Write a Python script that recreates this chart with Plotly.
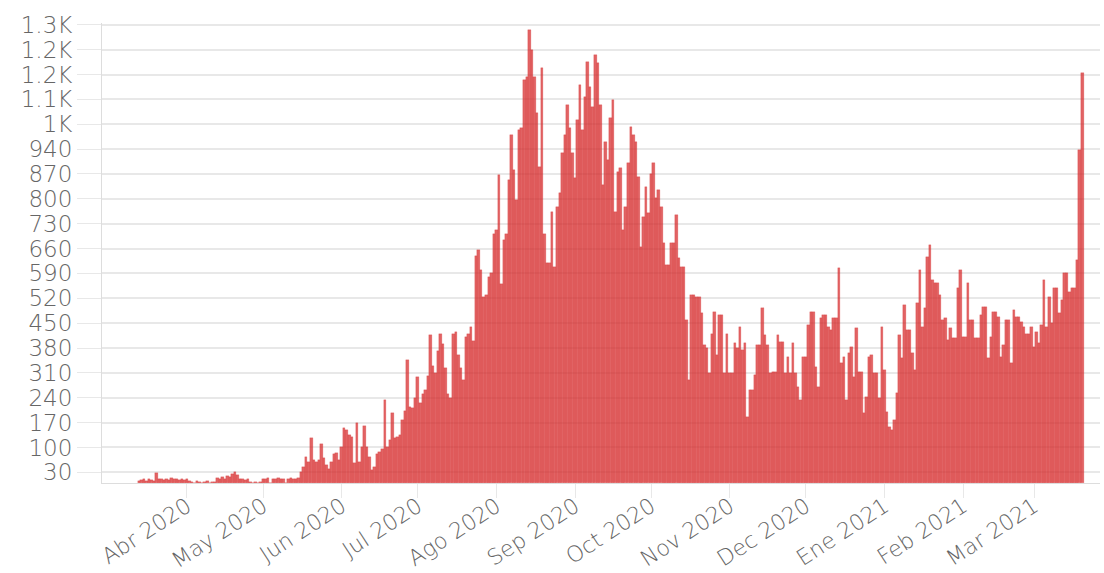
import pandas as pd
import plotly.graph_objects as go

# Daily new cases, one list per calendar month
cases_2020_03 = [5, 8, 10, 6, 12, 9, 7, 28, 10, 12, 8, 11, 9, 13, 10, 12, 9, 11, 8]  # from Mar 13
cases_2020_04 = [10, 6, 4, 0, 5, 3, 0, 4, 5, 0, 4, 3, 14, 12, 18, 10, 20, 16, 24, 30,
                 22, 12, 10, 8, 11, 3, 0, 4, 0, 3]
cases_2020_05 = [12, 10, 13, 0, 12, 11, 13, 10, 12, 0, 11, 13, 10, 12, 13, 30, 44, 72, 60, 128,
                 64, 60, 66, 111, 70, 50, 40, 58, 82, 85, 65]
cases_2020_06 = [100, 154, 150, 136, 130, 55, 168, 58, 100, 160, 100, 72, 36, 45, 82, 86, 95, 233, 100, 120,
                 196, 128, 130, 135, 176, 204, 345, 213, 210, 240]
cases_2020_07 = [298, 224, 250, 261, 300, 416, 330, 309, 373, 420, 390, 325, 250, 240, 420, 425, 360, 325, 290, 411,
                 420, 440, 400, 640, 655, 600, 523, 530, 580, 590, 700]
cases_2020_08 = [712, 866, 560, 683, 700, 852, 979, 880, 796, 993, 1000, 1134, 1143, 1275, 1219, 1143, 1041, 890, 1168, 700,
                 619, 620, 762, 608, 777, 816, 928, 979, 1064, 1000, 928]
cases_2020_09 = [858, 1022, 1120, 993, 1087, 1186, 1115, 1059, 1205, 1183, 1064, 839, 960, 909, 1027, 1078, 762, 875, 886, 712,
                 777, 900, 1002, 979, 960, 861, 664, 748, 833, 759]
cases_2020_10 = [870, 900, 802, 825, 777, 677, 613, 613, 677, 677, 754, 633, 608, 608, 458, 289, 528, 528, 523, 523,
                 478, 388, 379, 309, 420, 481, 360, 472, 472, 309, 420]
cases_2020_11 = [309, 309, 393, 379, 439, 374, 393, 185, 261, 261, 303, 388, 388, 492, 416, 388, 309, 312, 312, 416,
                 396, 396, 309, 354, 309, 393, 309, 270, 233, 354]
cases_2020_12 = [354, 444, 481, 481, 326, 270, 464, 472, 472, 439, 430, 464, 464, 604, 337, 354, 233, 365, 382, 298,
                 435, 312, 312, 196, 241, 354, 360, 309, 309, 240, 439]
cases_2021_01 = [317, 199, 157, 148, 176, 252, 416, 351, 500, 430, 430, 365, 317, 508, 599, 439, 492, 636, 669, 571,
                 563, 563, 528, 458, 464, 402, 435, 407, 407, 548, 599]
cases_2021_02 = [410, 410, 563, 458, 458, 407, 407, 472, 495, 495, 351, 410, 481, 481, 467, 354, 388, 458, 458, 337,
                 486, 467, 467, 453, 439, 420, 420, 439]
cases_2021_03 = [382, 425, 393, 444, 571, 439, 523, 450, 548, 548, 478, 514, 591, 591, 537, 548, 548, 627, 937, 1155]

first_day = "2020-03-13"

month_ticks = ["2020-04-01", "2020-05-01", "2020-06-01", "2020-07-01", "2020-08-01", "2020-09-01",
               "2020-10-01", "2020-11-01", "2020-12-01", "2021-01-01", "2021-02-01", "2021-03-01"]
month_labels = ["Abr 2020", "May 2020", "Jun 2020", "Jul 2020", "Ago 2020", "Sep 2020",
                "Oct 2020", "Nov 2020", "Dec 2020", "Ene 2021", "Feb 2021", "Mar 2021"]

y_ticks = [30, 100, 170, 240, 310, 380, 450, 520, 590, 660, 730, 800, 870, 940, 1010, 1080, 1150, 1220, 1290]
y_labels = ["30", "100", "170", "240", "310", "380", "450", "520", "590", "660", "730", "800", "870", "940",
            "1K", "1.1K", "1.2K", "1.2K", "1.3K"]

values = (cases_2020_03 + cases_2020_04 + cases_2020_05 + cases_2020_06 + cases_2020_07 + cases_2020_08
          + cases_2020_09 + cases_2020_10 + cases_2020_11 + cases_2020_12 + cases_2021_01 + cases_2021_02
          + cases_2021_03)
dates = pd.date_range(first_day, periods=len(values), freq="D")

grid = "#e8e8e8"
bar_color = "rgba(214,39,40,0.72)"
text_font = dict(family="DejaVu Sans", size=23, color="#666666", weight=200)
x_font = dict(family="DejaVu Sans", size=22, color="#666666", weight=200)

fig = go.Figure(
    go.Bar(
        x=dates,
        y=values,
        marker=dict(color=bar_color, line=dict(width=0.35, color=bar_color)),
    )
)

fig.update_layout(
    width=1104,
    height=573,
    margin=dict(l=102, r=4, t=23, b=90),
    paper_bgcolor="white",
    plot_bgcolor="white",
    bargap=0,
    showlegend=False,
    font=text_font,
)

fig.update_xaxes(
    type="date",
    range=["2020-02-27 12:00", "2021-03-27"],
    tickmode="array",
    tickvals=month_ticks,
    ticktext=month_labels,
    tickangle=-33,
    ticks="outside",
    ticklen=14,
    tickcolor=grid,
    ticklabelstandoff=-13,
    showgrid=False,
    showline=True,
    linecolor="#dddddd",
    linewidth=1,
    tickfont=x_font,
    zeroline=False,
    automargin=False,
)

fig.update_yaxes(
    range=[0, 1295],
    tickmode="array",
    tickvals=y_ticks,
    ticktext=y_labels,
    ticks="outside",
    ticklen=24,
    tickcolor=grid,
    showgrid=True,
    gridcolor=grid,
    gridwidth=1.5,
    showline=True,
    linecolor="#dddddd",
    linewidth=1,
    tickfont=text_font,
    zeroline=False,
    automargin=False,
)

fig.write_html("out.html")
